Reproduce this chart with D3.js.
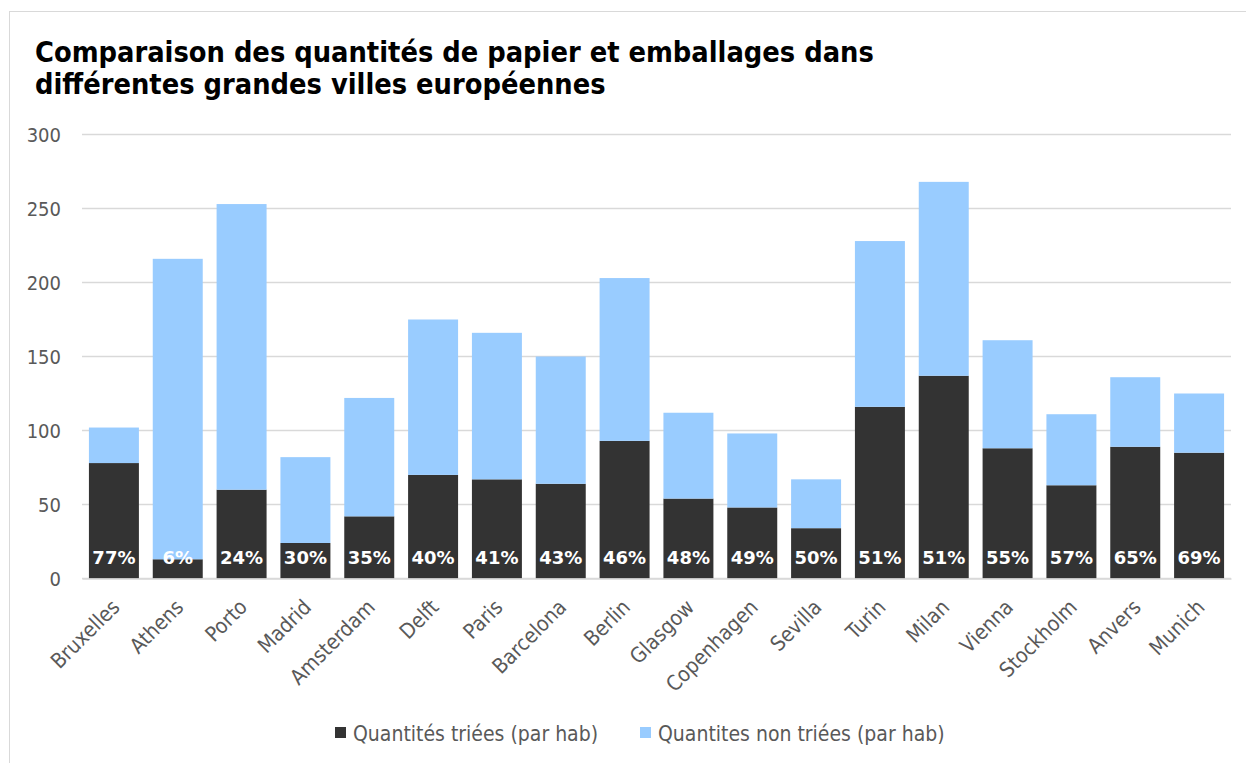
<!DOCTYPE html>
<html>
<head>
<meta charset="utf-8">
<script src="https://cdn.jsdelivr.net/npm/d3@7"></script>
<style>
  html, body { margin: 0; padding: 0; background: #fff; }
  svg { display: block; }
</style>
</head>
<body>
<svg id="chart" width="1246" height="763"></svg>
<script>
const categories = ["Bruxelles","Athens","Porto","Madrid","Amsterdam","Delft","Paris","Barcelona","Berlin","Glasgow","Copenhagen","Sevilla","Turin","Milan","Vienna","Stockholm","Anvers","Munich"];
const sortedValues = [78, 13, 60, 24, 42, 70, 67, 64, 93, 54, 48, 34, 116, 137, 88, 63, 89, 85];
const unsortedValues = [24, 203, 193, 58, 80, 105, 99, 86, 110, 58, 50, 33, 112, 131, 73, 48, 47, 40];
const percentLabels = ["77%","6%","24%","30%","35%","40%","41%","43%","46%","48%","49%","50%","51%","51%","55%","57%","65%","69%"];
const yTicks = [0, 50, 100, 150, 200, 250, 300];
const seriesNames = ["Quantités triées (par hab)", "Quantites non triées (par hab)"];
const titleLines = ["Comparaison des quantités de papier et emballages dans", "différentes grandes villes européennes"];

const colors = ["#333333", "#99ccff"];
const svg = d3.select("#chart");

// chart border
svg.append("rect").attr("x", 9.5).attr("y", 11.5).attr("width", 1250).attr("height", 770)
  .attr("fill", "none").attr("stroke", "#d9d9d9").attr("stroke-width", 1);

// title
const title = svg.append("text").attr("x", 35).attr("y", 62)
  .attr("font-family", "'DejaVu Sans Condensed', 'DejaVu Sans', sans-serif").attr("font-weight", "bold")
  .attr("font-size", 28.7).attr("fill", "#000");
titleLines.forEach((t, i) => {
  title.append("tspan").attr("x", 35).attr("y", 62 + i * 32).text(t);
});

const x = d3.scaleBand().domain(categories).range([82, 1231]).paddingInner(0.217).paddingOuter(0.1085);
const y = d3.scaleLinear().domain([0, 300]).range([578.5, 134.5]);

// gridlines
svg.append("g").selectAll("line").data(yTicks).join("line")
  .attr("x1", 82).attr("x2", 1231)
  .attr("y1", d => y(d)).attr("y2", d => y(d))
  .attr("stroke", "#d9d9d9").attr("stroke-width", 1.5);

// y axis
const yAxis = d3.axisLeft(y).tickValues(yTicks).tickSize(0).tickPadding(0);
const gy = svg.append("g").attr("transform", "translate(61,0)").call(yAxis);
gy.select(".domain").remove();
gy.selectAll("text").attr("font-family", "'DejaVu Sans Condensed', 'DejaVu Sans', sans-serif")
  .attr("font-size", 20).attr("fill", "#595959").attr("dy", "0.35em");

const data = categories.map((c, i) => ({c, s: sortedValues[i], u: unsortedValues[i], p: percentLabels[i]}));
const stack = d3.stack().keys(["s", "u"])(data);

svg.append("g").selectAll("g").data(stack).join("g")
  .attr("fill", (d, i) => colors[i])
  .selectAll("rect").data(d => d).join("rect")
  .attr("x", d => x(d.data.c)).attr("width", x.bandwidth())
  .attr("y", d => y(d[1])).attr("height", d => y(d[0]) - y(d[1]));

// percent labels
svg.append("g").selectAll("text").data(data).join("text")
  .attr("x", d => x(d.c) + x.bandwidth() / 2).attr("y", y(0) - 15)
  .attr("text-anchor", "middle").attr("font-family", "'DejaVu Sans', sans-serif")
  .attr("font-weight", "bold").attr("font-size", 18).attr("fill", "#fff")
  .text(d => d.p);

// x axis labels
const xAxis = d3.axisBottom(x).tickSize(0).tickPadding(0);
const gx = svg.append("g").attr("transform", `translate(0,${y(0)})`).call(xAxis);
gx.select(".domain").attr("stroke", "#d9d9d9").attr("stroke-width", 1.5);
gx.selectAll(".tick text")
  .attr("font-family", "'DejaVu Sans Condensed', 'DejaVu Sans', sans-serif")
  .attr("font-size", 21).attr("fill", "#595959")
  .attr("text-anchor", "end").attr("dy", null).attr("y", null)
  .attr("transform", "translate(2,25) rotate(-45)")
  .attr("dominant-baseline", "central");

// legend
const legendX = [335, 640];
const lg = svg.append("g");
seriesNames.forEach((n, i) => {
  lg.append("rect").attr("x", legendX[i]).attr("y", 727).attr("width", 11).attr("height", 11).attr("fill", colors[i]);
  lg.append("text").attr("x", legendX[i] + 18).attr("y", 741)
    .attr("font-family", "'DejaVu Sans Condensed', 'DejaVu Sans', sans-serif")
    .attr("font-size", 21).attr("fill", "#595959").text(n);
});
</script>
</body>
</html>
